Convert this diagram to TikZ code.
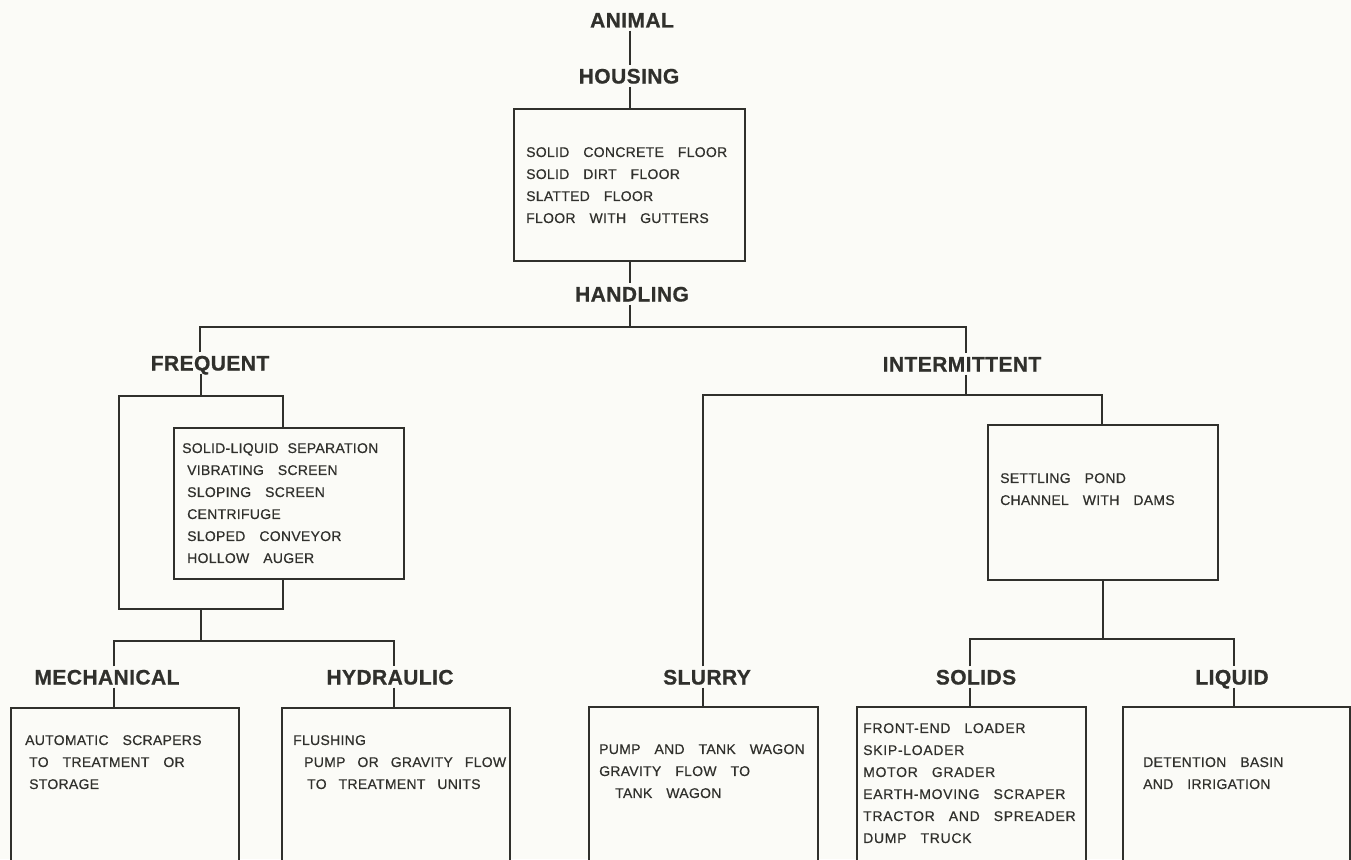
\documentclass[tikz,border=0pt]{standalone}
\usepackage{fontspec}
\setmainfont{Liberation Sans}
\newfontfamily\labfont[LetterSpace=2,FakeBold=0.8]{Liberation Sans}
\newfontfamily\bodyfont[LetterSpace=2,FakeBold=0.5]{Liberation Sans}
\definecolor{ink}{RGB}{48,48,44}
\definecolor{paper}{RGB}{251,251,247}
\begin{document}
\begin{tikzpicture}[x=1pt,y=-1pt,
  lab/.style={font={\labfont\bfseries\fontsize{21}{25}\selectfont}, text=ink, inner sep=3pt, text height=15pt, text depth=0pt},
  body/.style={font={\bodyfont\fontsize{14}{22}\selectfont\spaceskip=14pt\relax}, text=ink, inner sep=0pt, align=left, anchor=north west},
  box/.style={draw=ink, line width=2.2pt, fill=paper, inner sep=0pt, anchor=north west},
  con/.style={draw=ink, line width=2.2pt},
]
\fill[paper] (0,0) rectangle (1351,859);
\useasboundingbox (0,0) rectangle (1351,859);
\clip (0,0) rectangle (1351,859);

% top
\node[lab] (animal) at (632,20) {ANIMAL};
\node[lab] (housing) at (629,76) {HOUSING};
\node[box, minimum width=231pt, minimum height=152pt] (hbox) at (513,108) {};
\node[body] (htext) at (526,147) {SOLID CONCRETE FLOOR\\SOLID DIRT FLOOR\\SLATTED FLOOR\\FLOOR WITH GUTTERS};
\node[lab] (handling) at (632,294) {HANDLING};
\draw[con] (animal.south -| hbox.north) -- (housing.north -| hbox.north);
\draw[con] (housing.south -| hbox.north) -- (hbox.north);
\draw[con] (hbox.south) -- (handling.north -| hbox.south);

% split
\coordinate (fsplit) at (200,327);
\coordinate (isplit) at (966,327);
\node[lab] (freq) at (210,363) {FREQUENT};
\node[lab] (inter) at (962,364) {INTERMITTENT};
\draw[con] (handling.south -| hbox.south) -- (hbox.south |- fsplit);
\draw[con] (freq.north -| fsplit) -- (fsplit) -- (isplit) -- (inter.north -| isplit);

% frequent branch
\node[box, minimum width=164pt, minimum height=213pt] (fbox) at (118,395) {};
\draw[con] (freq.south -| fbox.north) -- (fbox.north);
\node[box, minimum width=230pt, minimum height=151pt] (sbox) at (173,427) {};
\node[body] (stext) at (182,443) {SOLID-LIQUID\hspace{-5pt} SEPARATION\\\hspace*{5pt}VIBRATING SCREEN\\\hspace*{5pt}SLOPING SCREEN\\\hspace*{5pt}CENTRIFUGE\\\hspace*{5pt}SLOPED CONVEYOR\\\hspace*{5pt}HOLLOW AUGER};

\coordinate (mbar) at (114,641);
\coordinate (hbar) at (394,641);
\node[lab] (mech) at (107,677) {MECHANICAL};
\node[lab] (hyd) at (390,677) {HYDRAULIC};
\draw[con] (fbox.south) -- (fbox.south |- mbar);
\draw[con] (mech.north -| mbar) -- (mbar) -- (hbar) -- (hyd.north -| hbar);
\node[box, minimum width=228pt, minimum height=175pt] (mbox) at (10,707) {};
\node[box, minimum width=228pt, minimum height=175pt] (hybox) at (281,707) {};
\draw[con] (mech.south -| mbar) -- (mbox.north -| mbar);
\draw[con] (hyd.south -| hbar) -- (hybox.north -| hbar);
\node[body] (mtext) at (25,735) {AUTOMATIC SCRAPERS\\\hspace*{4pt}TO TREATMENT OR\\\hspace*{4pt}STORAGE};
\node[body, font={\bodyfont\fontsize{14}{22}\selectfont\spaceskip=12pt\relax}] (hytext) at (293,735) {FLUSHING\\\hspace*{11pt}PUMP OR GRAVITY FLOW\\\hspace*{14pt}TO TREATMENT UNITS};

% intermittent branch
\coordinate (sbar) at (703,395);
\coordinate (tbar) at (1102,395);
\draw[con] (inter.south -| isplit) -- (isplit |- sbar);
\node[box, minimum width=230pt, minimum height=155pt] (pond) at (987,424) {};
\node[body] (ptext) at (1000,473) {SETTLING POND\\CHANNEL WITH DAMS};
\node[lab] (slurry) at (707,677) {SLURRY};
\draw[con] (slurry.north -| sbar) -- (sbar) -- (tbar) -- (pond.north -| tbar);

\coordinate (solbar) at (970,639);
\coordinate (liqbar) at (1234,639);
\node[lab] (solids) at (976,677) {SOLIDS};
\node[lab] (liquid) at (1232,677) {LIQUID};
\draw[con] (pond.south) -- (pond.south |- solbar);
\draw[con] (solids.north -| solbar) -- (solbar) -- (liqbar) -- (liquid.north -| liqbar);

\node[box, minimum width=229pt, minimum height=175pt] (slbox) at (588,706) {};
\node[box, minimum width=229pt, minimum height=175pt] (sobox) at (856,706) {};
\node[box, minimum width=227pt, minimum height=175pt] (libox) at (1122,706) {};
\draw[con] (slurry.south -| sbar) -- (slbox.north -| sbar);
\draw[con] (solids.south -| solbar) -- (sobox.north -| solbar);
\draw[con] (liquid.south -| liqbar) -- (libox.north -| liqbar);

\node[body] (sltext) at (599,744) {PUMP AND TANK WAGON\\GRAVITY FLOW TO\\\hspace*{16pt}TANK WAGON};
\node[body, font={\bodyfont\addfontfeature{LetterSpace=5}\fontsize{14}{22}\selectfont\spaceskip=14pt\relax}] (sotext) at (863,723) {FRONT-END LOADER\\SKIP-LOADER\\MOTOR GRADER\\EARTH-MOVING SCRAPER\\TRACTOR AND SPREADER\\DUMP TRUCK};
\node[body] (litext) at (1143,757) {DETENTION BASIN\\AND IRRIGATION};
\end{tikzpicture}
\end{document}
